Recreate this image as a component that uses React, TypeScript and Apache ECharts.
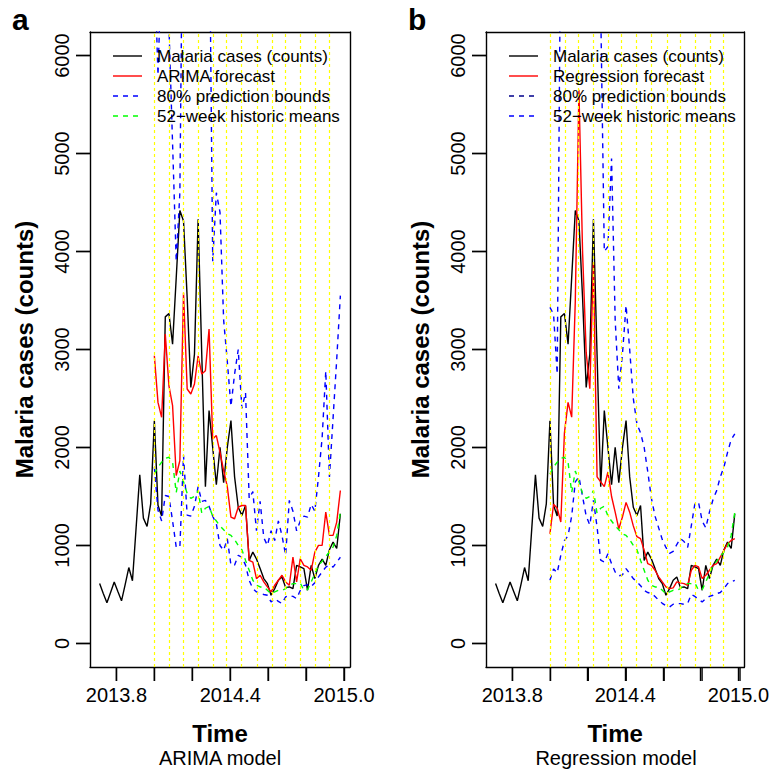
import React, { useEffect, useRef } from 'react';
import * as echarts from 'echarts';

// Weekly observations start at week index 37 of 2013 (time = 2013 + 37/52)
const FIRST_WEEK_2013 = 37;
// Forecasts start at the first week of 2014 (observation index 15)
const FORECAST_START = 15;

const observedCases = [
  611, 510, 415, 520, 628, 530, 435, 600, 775, 640,
  1180, 1721, 1279, 1194, 1425, 2273, 1410, 1300, 3333, 3367,
  3055, 3733, 4419, 4311, 3530, 2613, 2953, 4328, 2950, 1600,
  2376, 2000, 1620, 2002, 1640, 2000, 2274, 1700, 1390, 1307,
  1408, 848, 933, 862, 764, 662, 611, 492, 560, 645,
  679, 570, 577, 560, 797, 781, 764, 543, 797, 662,
  797, 862, 797, 957, 1035, 969, 1324,
];

const arimaForecast = [
  2936, 2460, 2308, 3157, 2630, 2426, 1714, 1867, 3580, 2597,
  2546, 2648, 2936, 2750, 2784, 3208, 2088, 2122, 1950, 1765,
  1600, 1289, 1273, 1391, 1408, 1408, 848, 831, 662, 696,
  628, 577, 526, 594, 645, 696, 628, 594, 882, 628,
  865, 797, 781, 747, 933, 1001, 1001, 1340, 1103, 1103,
  1239, 1561,
];

const arimaUpper = [
  7000, 5800, 7000, 7600, 6300, 5100, 3900, 4600, 8500, 6800,
  6700, 6900, 7500, 7000, 7100, 7800, 3900, 4600, 4400, 3300,
  2880, 2420, 2750, 3000, 2400, 2560, 1480, 1550, 1150, 1450,
  1080, 1000, 1150, 1050, 1250, 1100, 900, 1460, 1350, 1150,
  1250, 1300, 1290, 1420, 1350, 1700, 2100, 2780, 1700, 2300,
  2900, 3550,
];

const arimaLower = [
  1800, 1360, 1250, 1510, 1500, 1250, 984, 984, 1920, 1310,
  1300, 1400, 1600, 1450, 1460, 1400, 1300, 1220, 1000, 950,
  1070, 800, 800, 900, 880, 800, 644, 560, 526, 509,
  500, 492, 424, 458, 430, 407, 475, 490, 480, 458,
  540, 590, 600, 580, 620, 680, 730, 780, 800, 780,
  830, 880,
];

const historicMeans = [
  1730, 1800, 1850, 1890, 1900, 1850, 1540, 1760, 1650, 1530,
  1480, 1500, 1560, 1330, 1380, 1400, 1300, 1250, 1200, 1160,
  1120, 1103, 1059, 1001, 957, 848, 747, 645, 594, 577,
  577, 543, 509, 526, 543, 543, 560, 594, 611, 611,
  617, 543, 550, 628, 713, 797, 838, 889, 933, 984,
  1103, 1341,
];

const regressionForecast = [
  1120, 1420, 1380, 1240, 2150, 2460, 2310, 3500, 5650, 4000,
  2970, 2600, 3890, 1700, 1650, 1600, 1750, 1500, 1340, 1170,
  1290, 1440, 1340, 1200, 1090, 1070, 950, 814, 797, 747,
  680, 628, 577, 560, 567, 628, 618, 611, 594, 747,
  797, 781, 662, 696, 747, 797, 814, 882, 950, 1018,
  1052, 1070,
];

const regressionUpper = [
  3430, 3360, 2750, 7500, 8000, 9000, 9000, 10000, 14000, 10000,
  8000, 7500, 9000, 7000, 6500, 4000, 4050, 4950, 3300, 2600,
  2950, 3450, 3000, 2500, 2240, 2150, 2000, 1750, 1480, 1300,
  1180, 1060, 980, 920, 940, 1010, 1070, 1040, 980, 1200,
  1430, 1440, 1250, 1180, 1340, 1470, 1560, 1700, 1800, 1950,
  2080, 2140,
];

const regressionLower = [
  645, 760, 720, 900, 1050, 1100, 1300, 1650, 1700, 1500,
  1300, 1210, 1460, 1190, 850, 830, 916, 814, 730, 690,
  700, 764, 713, 662, 630, 590, 540, 520, 509, 480,
  441, 410, 385, 373, 400, 407, 407, 400, 410, 500,
  480, 450, 424, 458, 480, 492, 509, 520, 560, 611,
  630, 645,
];

// model refit points (weeks of 2014) drawn as yellow dotted verticals
const refitWeeks2014 = [0, 4, 8, 12, 16, 20, 24, 28, 32, 36, 40, 44, 48];

const xTickValues = [2013.8, 2014.0, 2014.2, 2014.4, 2014.6, 2014.8, 2015.0];
const xLabelValues = [2013.8, 2014.4, 2015.0];
const yTickValues = [0, 1000, 2000, 3000, 4000, 5000, 6000];

const FONT = '"Liberation Sans", Arial, Helvetica, sans-serif';

const weekTime = (i: number) => 2013 + (FIRST_WEEK_2013 + i) / 52;
const T0 = weekTime(0);
const T1 = weekTime(observedCases.length - 1);
const XMIN = T0 - 0.04 * (T1 - T0);
const XMAX = T1 + 0.04 * (T1 - T0);
const YMIN = -240;
const YMAX = 6240;

const obsPairs = observedCases.map((v, i) => [weekTime(i), v]);
const fcPairs = (arr: number[]) => arr.map((v, k) => [weekTime(FORECAST_START + k), v]);

const GRID_TOP = 32;
const GRID_H = 635;
const GRID_W = 260;
const TICK_LEN = 14;
const LW = 1.4;
const BLACK_LINE = { color: '#000', width: LW };
const PANELS = [
  {
    left: 90,
    label: 'a',
    sub: 'ARIMA model',
    forecast: arimaForecast,
    upper: arimaUpper,
    lower: arimaLower,
    legend: [
      { text: 'Malaria cases (counts)', color: '#000000', dash: false },
      { text: 'ARIMA forecast', color: '#ff0000', dash: false },
      { text: '80% prediction bounds', color: '#0000ff', dash: true },
      { text: '52\u2212week historic means', color: '#00ff00', dash: true },
    ],
  },
  {
    left: 486,
    label: 'b',
    sub: 'Regression model',
    forecast: regressionForecast,
    upper: regressionUpper,
    lower: regressionLower,
    legend: [
      { text: 'Malaria cases (counts)', color: '#000000', dash: false },
      { text: 'Regression forecast', color: '#ff0000', dash: false },
      { text: '80% prediction bounds', color: '#00008b', dash: true },
      { text: '52\u2212week historic means', color: '#0000ff', dash: true },
    ],
  },
];

// pixel position of axis values inside a panel's plotting box (linear value axes)
const xPix = (left: number, v: number) => left + ((v - XMIN) / (XMAX - XMIN)) * GRID_W;
const yPix = (v: number) => GRID_TOP + ((YMAX - v) / (YMAX - YMIN)) * GRID_H;

function buildOption() {
  const grid: any[] = [];
  const xAxis: any[] = [];
  const yAxis: any[] = [];
  const series: any[] = [];
  const graphic: any[] = [];

  PANELS.forEach((p, g) => {
    grid.push({ left: p.left, top: GRID_TOP, width: GRID_W, height: GRID_H, show: false });
    xAxis.push({
      type: 'value',
      gridIndex: g,
      position: 'bottom',
      min: XMIN,
      max: XMAX,
      axisLine: { show: true, onZero: false, lineStyle: BLACK_LINE },
      splitLine: { show: false },
      axisTick: {
        show: true,
        inside: false,
        length: TICK_LEN,
        customValues: xTickValues,
        lineStyle: BLACK_LINE,
      },
      axisLabel: {
        show: true,
        customValues: xLabelValues,
        formatter: (v: number) => v.toFixed(1),
        fontSize: 20,
        color: '#000',
        margin: 18,
        fontFamily: FONT,
      },
      name: 'Time',
      nameLocation: 'middle',
      nameGap: 54,
      nameTextStyle: { fontSize: 24, fontWeight: 'bold', color: '#000', fontFamily: FONT },
    });
    xAxis.push({
      type: 'value',
      gridIndex: g,
      position: 'top',
      min: XMIN,
      max: XMAX,
      axisLine: { show: true, onZero: false, lineStyle: BLACK_LINE },
      splitLine: { show: false },
      axisTick: { show: false },
      axisLabel: { show: false },
    });
    yAxis.push({
      type: 'value',
      gridIndex: g,
      position: 'left',
      min: YMIN,
      max: YMAX,
      axisLine: { show: true, onZero: false, lineStyle: BLACK_LINE },
      splitLine: { show: false },
      axisTick: {
        show: true,
        inside: false,
        length: TICK_LEN,
        customValues: yTickValues,
        lineStyle: BLACK_LINE,
      },
      axisLabel: {
        show: true,
        customValues: yTickValues,
        formatter: (v: number) => String(v),
        rotate: 90,
        fontSize: 20,
        color: '#000',
        margin: 18,
        fontFamily: FONT,
      },
      name: 'Malaria cases (counts)',
      nameLocation: 'middle',
      nameGap: 54,
      nameRotate: 90,
      nameTextStyle: { fontSize: 24, fontWeight: 'bold', color: '#000', fontFamily: FONT },
    });
    yAxis.push({
      type: 'value',
      gridIndex: g,
      position: 'right',
      min: YMIN,
      max: YMAX,
      axisLine: { show: true, onZero: false, lineStyle: BLACK_LINE },
      splitLine: { show: false },
      axisTick: { show: false },
      axisLabel: { show: false },
    });

    const xi = 2 * g;
    const yi = 2 * g;
    const base = { type: 'line', xAxisIndex: xi, yAxisIndex: yi, showSymbol: false, symbol: 'none', clip: true, silent: true };
    series.push({ ...base, name: `${p.label}-observed`, data: obsPairs, lineStyle: { color: '#000', width: LW }, z: 2 });
    series.push({ ...base, name: `${p.label}-forecast`, data: fcPairs(p.forecast), lineStyle: { color: '#ff0000', width: LW }, z: 3 });
    series.push({ ...base, name: `${p.label}-upper`, data: fcPairs(p.upper), lineStyle: { color: '#0000ff', width: LW, type: [5, 5] }, z: 3 });
    series.push({ ...base, name: `${p.label}-lower`, data: fcPairs(p.lower), lineStyle: { color: '#0000ff', width: LW, type: [5, 5] }, z: 3 });
    series.push({ ...base, name: `${p.label}-means`, data: fcPairs(historicMeans), lineStyle: { color: '#00ff00', width: LW, type: [5, 5] }, z: 4 });
    series.push({
      ...base,
      name: `${p.label}-refits`,
      data: [],
      z: 6,
      markLine: {
        silent: true,
        symbol: 'none',
        label: { show: false },
        lineStyle: { color: '#ffff00', width: 1.2, type: [3, 3] },
        data: refitWeeks2014.map((w) => ({ xAxis: 2014 + w / 52 })),
      },
    });

    // outward tick marks along the bottom and left edges of the box
    const yBottom = GRID_TOP + GRID_H;
    xTickValues.forEach((v) => {
      const px = xPix(p.left, v);
      graphic.push({
        type: 'line',
        shape: { x1: px, y1: yBottom, x2: px, y2: yBottom + TICK_LEN },
        style: { stroke: '#000000', lineWidth: LW },
        z: 100,
      });
    });
    yTickValues.forEach((v) => {
      const py = yPix(v);
      graphic.push({
        type: 'line',
        shape: { x1: p.left - TICK_LEN, y1: py, x2: p.left, y2: py },
        style: { stroke: '#000000', lineWidth: LW },
        z: 100,
      });
    });

    graphic.push({
      type: 'text',
      left: p.left - 78,
      top: 4,
      style: { text: p.label, font: `bold 30px ${FONT}`, fill: '#000' },
    });
    graphic.push({
      type: 'text',
      x: p.left + GRID_W / 2,
      y: 758,
      style: { text: p.sub, font: `20px ${FONT}`, fill: '#000', textAlign: 'center', textVerticalAlign: 'middle' },
    });
    p.legend.forEach((it, r) => {
      const y = 56 + r * 20;
      graphic.push({
        type: 'line',
        shape: { x1: p.left + 23, y1: y, x2: p.left + 52, y2: y },
        style: { stroke: it.color, lineWidth: LW, lineDash: it.dash ? [5, 5] : null },
        z: 100,
      });
      graphic.push({
        type: 'text',
        x: p.left + 67,
        y,
        style: { text: it.text, font: `17px ${FONT}`, fill: '#000', textVerticalAlign: 'middle' },
        z: 100,
      });
    });
  });

  return {
    animation: false,
    backgroundColor: '#ffffff',
    textStyle: { fontFamily: FONT },
    grid,
    xAxis,
    yAxis,
    series,
    graphic,
  };
}

export default function App() {
  const ref = useRef<HTMLDivElement>(null);
  useEffect(() => {
    if (!ref.current) return;
    const chart = echarts.init(ref.current, undefined, { renderer: 'svg' });
    chart.setOption(buildOption() as any);
    return () => chart.dispose();
  }, []);
  return (
    <div
      ref={ref}
      style={{ position: 'fixed', left: 0, top: 0, width: 772, height: 771, background: '#fff' }}
    />
  );
}
